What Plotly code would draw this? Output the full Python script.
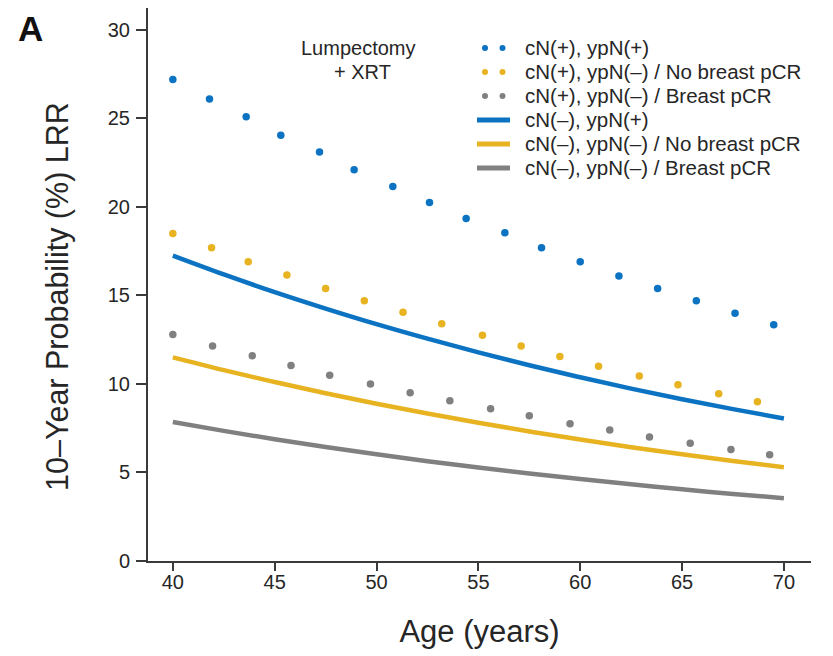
import plotly.graph_objects as go

# ---------------- data ----------------
# Dotted series (points along dotted curves)
age_cnp_ypnp = [40.0, 41.8, 43.6, 45.3, 47.2, 48.9, 50.8, 52.6, 54.4, 56.3, 58.1, 60.0, 61.9, 63.8, 65.7, 67.6, 69.5]
lrr_cnp_ypnp = [27.2, 26.1, 25.1, 24.05, 23.1, 22.1, 21.15, 20.25, 19.35, 18.55, 17.7, 16.9, 16.1, 15.4, 14.7, 14.0, 13.35]

age_cnp_ypnn_nopcr = [40.0, 41.9, 43.7, 45.6, 47.5, 49.4, 51.3, 53.2, 55.2, 57.1, 59.0, 60.9, 62.9, 64.8, 66.8, 68.7]
lrr_cnp_ypnn_nopcr = [18.5, 17.7, 16.9, 16.15, 15.4, 14.7, 14.05, 13.4, 12.75, 12.15, 11.55, 11.0, 10.45, 9.95, 9.45, 9.0]

age_cnp_ypnn_pcr = [40.0, 41.95, 43.9, 45.8, 47.7, 49.7, 51.65, 53.6, 55.6, 57.5, 59.5, 61.45, 63.4, 65.4, 67.4, 69.3]
lrr_cnp_ypnn_pcr = [12.8, 12.15, 11.6, 11.05, 10.5, 10.0, 9.5, 9.05, 8.6, 8.2, 7.75, 7.4, 7.0, 6.65, 6.3, 6.0]

# Solid series
age_solid = [40, 42.5, 45, 47.5, 50, 52.5, 55, 57.5, 60, 62.5, 65, 67.5, 70]
lrr_cnn_ypnp = [17.25, 16.19, 15.19, 14.26, 13.38, 12.56, 11.79, 11.06, 10.38, 9.74, 9.14, 8.58, 8.05]
lrr_cnn_ypnn_nopcr = [11.5, 10.78, 10.11, 9.48, 8.88, 8.33, 7.81, 7.32, 6.86, 6.43, 6.03, 5.65, 5.3]
lrr_cnn_ypnn_pcr = [7.85, 7.35, 6.88, 6.44, 6.03, 5.64, 5.28, 4.94, 4.63, 4.33, 4.05, 3.79, 3.55]

series_names = [
    "cN(+), ypN(+)",
    "cN(+), ypN(\u2013) / No breast pCR",
    "cN(+), ypN(\u2013) / Breast pCR",
    "cN(\u2013), ypN(+)",
    "cN(\u2013), ypN(\u2013) / No breast pCR",
    "cN(\u2013), ypN(\u2013) / Breast pCR",
]

x_ticks = [40, 45, 50, 55, 60, 65, 70]
y_ticks = [0, 5, 10, 15, 20, 25, 30]

# ---------------- styling ----------------
BLUE = "#0b73c2"
YELLOW = "#e8b321"
GRAY = "#808080"
AXIS = "#3a3a3a"
TXT = "#262626"
FONT = "Liberation Sans, Arial, sans-serif"

OFF = 8                      # page body margin of the html
W, H = 833 - OFF, 656 - OFF  # figure size so that it fits the window
# plot area in page pixels
L, R, T, B = 148, 811, 8, 561


def px(xp):
    return (xp - L) / (R - L)


def py(yp):
    return (B - yp) / (B - T)


fig = go.Figure()

dotted = [
    (age_cnp_ypnp, lrr_cnp_ypnp, BLUE, series_names[0]),
    (age_cnp_ypnn_nopcr, lrr_cnp_ypnn_nopcr, YELLOW, series_names[1]),
    (age_cnp_ypnn_pcr, lrr_cnp_ypnn_pcr, GRAY, series_names[2]),
]
solid = [
    (age_solid, lrr_cnn_ypnp, BLUE, series_names[3]),
    (age_solid, lrr_cnn_ypnn_nopcr, YELLOW, series_names[4]),
    (age_solid, lrr_cnn_ypnn_pcr, GRAY, series_names[5]),
]

for xs, ys, c, n in solid[::-1]:
    fig.add_trace(go.Scatter(x=xs, y=ys, mode="lines", name=n,
                             line=dict(color=c, width=4.5, shape="spline"),
                             showlegend=False, hoverinfo="skip"))
for xs, ys, c, n in dotted[::-1]:
    fig.add_trace(go.Scatter(x=xs, y=ys, mode="markers", name=n,
                             marker=dict(color=c, size=7.5, line=dict(width=0)),
                             showlegend=False, hoverinfo="skip"))

# ---------------- custom legend ----------------
shapes = []
annotations = []
row_y = [48, 72, 96, 120, 144, 168]
colors = [BLUE, YELLOW, GRAY, BLUE, YELLOW, GRAY]
for i, (name, c, yy) in enumerate(zip(series_names, colors, row_y)):
    if i < 3:
        for cx in (485, 502.5):
            shapes.append(dict(type="circle", xref="paper", yref="paper",
                               x0=px(cx - 3), x1=px(cx + 3), y0=py(yy + 3), y1=py(yy - 3),
                               fillcolor=c, line=dict(width=0)))
    else:
        shapes.append(dict(type="line", xref="paper", yref="paper",
                           x0=px(477), x1=px(510), y0=py(yy), y1=py(yy),
                           line=dict(color=c, width=5)))
    annotations.append(dict(xref="paper", yref="paper", x=px(523), y=py(yy),
                            xanchor="left", yanchor="middle", showarrow=False,
                            text=name, font=dict(family=FONT, size=20.5, color=TXT)))

annotations.append(dict(xref="paper", yref="paper", x=px(358), y=py(48),
                        xanchor="center", yanchor="middle", showarrow=False,
                        text="Lumpectomy", font=dict(family=FONT, size=20, color=TXT)))
annotations.append(dict(xref="paper", yref="paper", x=px(362), y=py(72),
                        xanchor="center", yanchor="middle", showarrow=False,
                        text="+ XRT", font=dict(family=FONT, size=20, color=TXT)))
# panel letter
annotations.append(dict(xref="paper", yref="paper", x=px(30), y=1.0,
                        xanchor="center", yanchor="top", showarrow=False, borderpad=0,
                        text="<b>A</b>", font=dict(family=FONT, size=35, color="#111111")))
# y axis title (centred where the reference has it)
annotations.append(dict(xref="paper", yref="paper", x=px(57), y=py(297),
                        xanchor="center", yanchor="middle", showarrow=False, textangle=-90,
                        text="10\u2013Year Probability (%) LRR",
                        font=dict(family=FONT, size=30.5, color=TXT)))

fig.update_layout(
    width=W, height=H,
    margin=dict(l=L - OFF, r=833 - R, t=T - OFF, b=656 - B, autoexpand=False),
    paper_bgcolor="white", plot_bgcolor="white",
    showlegend=False,
    shapes=shapes, annotations=annotations,
    font=dict(family=FONT, color=TXT),
)
fig.update_xaxes(range=[38.78, 71.33], tickvals=x_ticks, ticktext=[str(v) for v in x_ticks],
                 showline=True, linecolor=AXIS, linewidth=2, ticks="outside", ticklen=8,
                 tickwidth=1.5, tickcolor=AXIS, showgrid=False, zeroline=False,
                 ticklabelstandoff=-6,
                 tickfont=dict(family=FONT, size=20, color=TXT),
                 title=dict(text="Age (years)", font=dict(family=FONT, size=31, color=TXT), standoff=28))
fig.update_yaxes(range=[0, 31.24], tickvals=y_ticks, ticktext=[str(v) for v in y_ticks],
                 showline=True, linecolor=AXIS, linewidth=2, ticks="outside", ticklen=10,
                 tickwidth=1.5, tickcolor=AXIS, showgrid=False, zeroline=False,
                 ticklabelstandoff=2,
                 tickfont=dict(family=FONT, size=20, color=TXT))

fig.write_html("out.html")
